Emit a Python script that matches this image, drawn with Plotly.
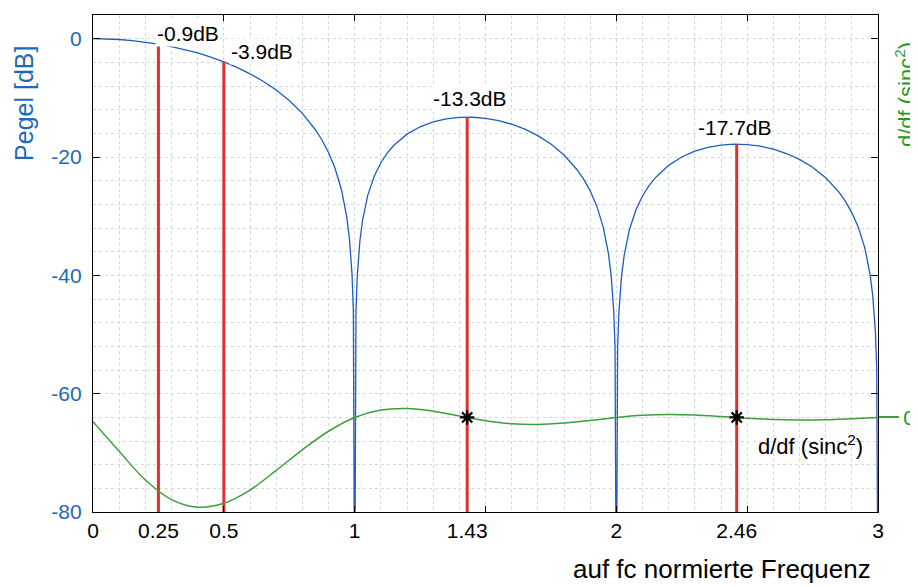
import plotly.graph_objects as go

# ---- data ----
freq = [0, 0.05, 0.1, 0.15, 0.2, 0.25, 0.3, 0.35, 0.4, 0.45, 0.5, 0.55, 0.6, 0.65, 0.7,
        0.75, 0.8, 0.85, 0.875, 0.9, 0.925, 0.95, 0.97, 0.98, 0.99, 0.995, 1.0, 1.005, 1.01,
        1.02, 1.03, 1.05, 1.075, 1.1, 1.125, 1.15, 1.2, 1.25, 1.3, 1.35, 1.4, 1.45, 1.5, 1.55,
        1.6, 1.65, 1.7, 1.75, 1.8, 1.85, 1.875, 1.9, 1.925, 1.95, 1.97, 1.98, 1.99, 1.995, 2.0,
        2.005, 2.01, 2.02, 2.03, 2.05, 2.075, 2.1, 2.125, 2.15, 2.2, 2.25, 2.3, 2.35, 2.4, 2.45,
        2.5, 2.55, 2.6, 2.65, 2.7, 2.75, 2.8, 2.85, 2.875, 2.9, 2.925, 2.95, 2.97, 2.98, 2.99,
        2.995, 3.0]
level_db = [0, -0.04, -0.14, -0.32, -0.58, -0.91, -1.33, -1.83, -2.42, -3.12, -3.92, -4.86,
            -5.94, -7.20, -8.69, -10.45, -12.62, -15.39, -17.13, -19.23, -21.90, -25.61, -30.21,
            -33.81, -39.91, -45.98, -100, -46.06, -40.09, -34.16, -30.73, -26.48, -23.21, -20.97,
            -19.31, -18.02, -16.14, -14.89, -14.06, -13.55, -13.30, -13.28, -13.46, -13.86,
            -14.46, -15.30, -16.39, -17.81, -19.66, -22.15, -23.75, -25.72, -28.27, -31.86,
            -36.36, -39.92, -45.98, -52.02, -100, -52.06, -46.07, -40.09, -36.62, -32.29, -28.92,
            -26.59, -24.83, -23.45, -21.41, -20.00, -19.02, -18.37, -17.98, -17.83, -17.90,
            -18.18, -18.68, -19.41, -20.41, -21.74, -23.50, -25.90, -27.46, -29.39, -31.90,
            -35.45, -39.93, -43.47, -49.51, -55.55, -100]

deriv_freq = [0, 0.1, 0.2, 0.3, 0.4, 0.5, 0.6, 0.7, 0.8, 0.9, 1.0, 1.1, 1.2, 1.3, 1.4, 1.5,
              1.6, 1.7, 1.8, 1.9, 2.0, 2.1, 2.2, 2.3, 2.4, 2.5, 2.6, 2.7, 2.8, 2.9, 3.0]
deriv_val = [-0.08, -0.64, -1.18, -1.55, -1.695, -1.62, -1.37, -1.00, -0.61, -0.26, 0.0,
             0.14, 0.17, 0.119, 0.029, -0.060, -0.118, -0.132, -0.105, -0.055, 0.0, 0.040,
             0.056, 0.046, 0.019, -0.013, -0.038, -0.048, -0.042, -0.023, 0.0]

marker_freq = [0.25, 0.5, 1.43, 2.46]
marker_level = [-0.91, -3.92, -13.26, -17.83]
marker_label = ["-0.9dB", "-3.9dB", "-13.3dB", "-17.7dB"]

zero_freq = [1.43, 2.46]
zero_val = [0, 0]

xtick_vals = [0, 0.25, 0.5, 1, 1.43, 2, 2.46, 3]
xtick_text = ["0", "0.25", "0.5", "1", "1.43", "2", "2.46", "3"]
xtick_marks = [0, 0.5, 1, 1.5, 2, 2.5, 3]
ytick_vals = [-80, -60, -40, -20, 0]
ytick_text = ["-80", "-60", "-40", "-20", "0"]

# ---- styles ----
FONT = "Helvetica, Liberation Sans, Arial, sans-serif"
BLUE = "#1f5cbf"
BLUE_TXT = "#1e6ab4"
GREEN = "#3c9e3c"
GREEN_TXT = "#1f9a1f"
RED = "#e03030"
GRID = "#cddbe0"
Y_MIN, Y_MAX = -80, 4

fig = go.Figure()

# invisible trace to carry the tick-mark axis
fig.add_trace(go.Scatter(x=[None], y=[None], xaxis="x2", yaxis="y", showlegend=False,
                         hoverinfo="skip"))

fig.add_trace(go.Scatter(x=freq, y=level_db, mode="lines",
                         line=dict(color=BLUE, width=1.3), showlegend=False))

red_x, red_y = [], []
for f, lv in zip(marker_freq, marker_level):
    red_x += [f, f, None]
    red_y += [Y_MIN, lv, None]
fig.add_trace(go.Scatter(x=red_x, y=red_y, mode="lines",
                         line=dict(color=RED, width=3), showlegend=False))

fig.add_trace(go.Scatter(x=deriv_freq, y=deriv_val, mode="lines", yaxis="y2",
                         line=dict(color=GREEN, width=1.5, shape="spline"), showlegend=False))

fig.add_trace(go.Scatter(x=zero_freq, y=zero_val, mode="markers", yaxis="y2",
                         marker=dict(symbol="asterisk-open", size=12, color="black",
                                     line=dict(color="black", width=2.2)),
                         showlegend=False))

# dB labels
label_cfg = [("left", -3, 11), ("left", 5, 10), ("center", 3, 19), ("center", -2, 17)]
for f, lv, txt, (anc, xs, ys) in zip(marker_freq, marker_level, marker_label, label_cfg):
    fig.add_annotation(x=f, y=lv, xref="x", yref="y", text=txt, showarrow=False,
                       xanchor=anc, yanchor="middle", xshift=xs, yshift=ys,
                       bgcolor="white", borderpad=1,
                       font=dict(family=FONT, size=21, color="black"))

fig.add_annotation(x=2.535, y=-68.6, xref="x", yref="y", text="d/df (sinc<sup>2</sup>)",
                   showarrow=False, xanchor="left", yanchor="middle",
                   font=dict(family=FONT, size=22, color="black"))

# axis titles
fig.add_annotation(x=-0.088, y=0.823, xref="paper", yref="paper", text="Pegel [dB]",
                   textangle=-90, showarrow=False, xanchor="center", yanchor="middle",
                   font=dict(family=FONT, size=25, color=BLUE_TXT))
fig.add_annotation(x=1.0345, y=0.839, xref="paper", yref="paper",
                   text="d/df (sinc<sup>2</sup>)", textangle=-90, showarrow=False,
                   xanchor="center", yanchor="middle",
                   font=dict(family=FONT, size=22, color=GREEN_TXT))
fig.add_annotation(x=0.9936, y=-0.114, xref="paper", yref="paper",
                   text="auf fc normierte Frequenz", showarrow=False,
                   xanchor="right", yanchor="middle",
                   font=dict(family=FONT, size=26, color="black"))

# page body has an 8px margin, so the figure is sized 8px smaller and margins shifted
fig.update_layout(
    width=910, height=579,
    margin=dict(l=85, r=40, t=7, b=75),
    paper_bgcolor="white", plot_bgcolor="white",
    font=dict(family=FONT, size=21, color="black"),
    xaxis=dict(range=[0, 3], tickmode="array", tickvals=xtick_vals, ticktext=xtick_text,
               ticks="", showgrid=False, zeroline=False, showline=True, mirror=True,
               linecolor="black", linewidth=1.2, automargin=False,
               tickfont=dict(family=FONT, size=21, color="black"),
               minor=dict(tickmode="linear", tick0=0, dtick=0.1, showgrid=True,
                          gridcolor=GRID, griddash="dot", gridwidth=1, ticks="")),
    xaxis2=dict(range=[0, 3], overlaying="x", anchor="y", side="bottom", tickmode="array",
                tickvals=xtick_marks, ticks="inside", ticklen=6, tickcolor="black",
                showticklabels=False, showgrid=False, zeroline=False, showline=False,
                mirror="ticks", automargin=False),
    yaxis=dict(range=[Y_MIN, Y_MAX], tickmode="array", tickvals=ytick_vals,
               ticktext=ytick_text, automargin=False,
               ticks="inside", ticklen=7, tickcolor="black", showgrid=False, zeroline=False,
               showline=True, mirror="ticks", linecolor="black", linewidth=1.2,
               tickfont=dict(family=FONT, size=21, color=BLUE_TXT), ticklabelstandoff=6,
               minor=dict(tickmode="linear", tick0=0, dtick=4, showgrid=True,
                          gridcolor=GRID, griddash="dot", gridwidth=1, ticks="")),
    yaxis2=dict(range=[-1.785, 7.6], overlaying="y", side="right", anchor="x",
                tickmode="array", tickvals=[0], ticktext=["0"], ticks="outside",
                ticklen=20, tickwidth=2, tickcolor=GREEN, showgrid=False, zeroline=False,
                showline=False, automargin=False,
                tickfont=dict(family=FONT, size=21, color=GREEN_TXT)),
)

fig.write_html("out.html")
